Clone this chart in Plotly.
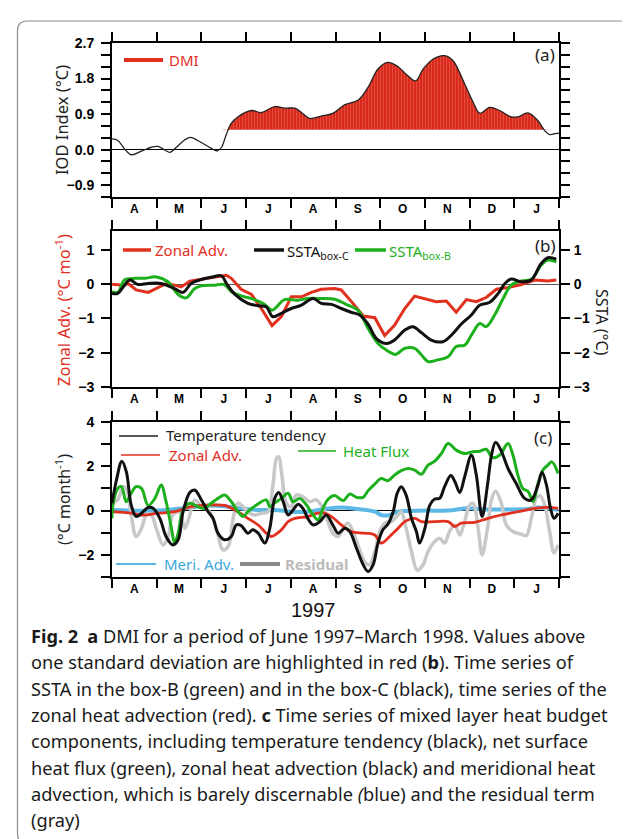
import numpy as np
import plotly.graph_objects as go

W, H = 630, 839


def px(x):
    return x / W


def py(y):
    return 1 - y / H


RED = '#e2301f'
GREEN = '#1db01d'
BLACK = '#111111'
BLUE = '#5cb8e4'
GRAY = '#c8c8c8'

# ---------------- data ----------------
month_labels = ['A', 'M', 'J', 'J', 'A', 'S', 'O', 'N', 'D', 'J']
month_edges = list(range(11))            # month boundaries (months since 1 Apr 1997)
month_centers = [m + 0.5 for m in range(10)]

# (a) DMI
dmi_t = [0, 0.13, 0.28, 0.43, 0.66, 0.88, 1.03, 1.18, 1.30, 1.44,
         1.63, 1.76, 1.92, 2.15, 2.36, 2.45, 2.56, 2.66, 2.82, 3.12,
         3.34, 3.64, 3.86, 4.09, 4.24, 4.42, 4.68, 4.94, 5.21, 5.50,
         5.73, 5.95, 6.17, 6.40, 6.58, 6.79, 6.96, 7.18, 7.44, 7.63,
         7.89, 8.08, 8.23, 8.45, 8.67, 8.93, 9.08, 9.31, 9.53, 9.68,
         9.79, 9.94, 10.0]
dmi_v = [0.27, 0.23, 0.02, -0.13, -0.04, 0.06, 0.08, -0.01, -0.07, 0.06,
         0.25, 0.31, 0.23, 0.08, -0.03, 0.06, 0.39, 0.65, 0.83, 0.99,
         0.94, 1.09, 1.05, 1.05, 0.94, 0.79, 0.85, 0.92, 1.14, 1.25,
         1.58, 2.04, 2.21, 2.10, 1.91, 1.74, 2.04, 2.29, 2.38, 2.25,
         1.66, 1.20, 0.92, 1.07, 0.99, 0.83, 0.83, 0.93, 0.73, 0.48,
         0.38, 0.41, 0.41]
dmi_std = 0.5

# (b) zonal advection and SSTA
zonal_b_t = [0, 0.13, 0.25, 0.36, 0.54, 0.81, 1.03, 1.22, 1.40, 1.55,
             1.74, 1.96, 2.22, 2.41, 2.56, 2.67, 2.89, 3.12, 3.34, 3.58,
             3.79, 4.01, 4.24, 4.46, 4.68, 4.98, 5.13, 5.39, 5.62, 5.88,
             6.10, 6.32, 6.55, 6.77, 7.00, 7.25, 7.48, 7.70, 7.93, 8.15,
             8.37, 8.60, 8.86, 9.16, 9.46, 9.75, 9.94]
zonal_b_v = [0.0, -0.01, -0.03, 0.02, -0.17, -0.24, -0.10, 0.02, -0.03, -0.08,
             0.09, 0.14, 0.20, 0.23, 0.26, 0.17, -0.15, -0.30, -0.71, -1.21,
             -0.95, -0.37, -0.37, -0.24, -0.15, -0.13, -0.17, -0.56, -0.93, -0.98,
             -1.50, -1.20, -0.71, -0.35, -0.42, -0.51, -0.49, -0.82, -0.45, -0.51,
             -0.39, -0.15, -0.10, -0.01, 0.12, 0.09, 0.12]

sstc_t = [0, 0.13, 0.25, 0.40, 0.58, 0.81, 1.10, 1.40, 1.59, 1.77,
          1.96, 2.22, 2.45, 2.56, 2.75, 3.04, 3.27, 3.45, 3.60, 3.79,
          4.01, 4.24, 4.50, 4.68, 4.91, 5.13, 5.35, 5.54, 5.73, 5.91,
          6.14, 6.32, 6.55, 6.73, 6.92, 7.14, 7.40, 7.59, 7.81, 8.04,
          8.23, 8.45, 8.64, 8.79, 8.93, 9.16, 9.38, 9.60, 9.75, 9.94]
sstc_v = [-0.27, -0.27, -0.08, 0.12, -0.01, 0.02, 0.02, -0.13, -0.24, 0.02,
          0.12, 0.20, 0.24, 0.02, -0.30, -0.56, -0.63, -0.66, -0.95, -0.85,
          -0.71, -0.61, -0.42, -0.56, -0.59, -0.71, -0.82, -0.90, -1.17, -1.58,
          -1.73, -1.63, -1.34, -1.24, -1.41, -1.63, -1.68, -1.49, -1.17, -0.90,
          -0.61, -0.53, -0.27, 0.02, 0.15, 0.07, 0.12, 0.60, 0.77, 0.73]

sstb_t = [0, 0.13, 0.28, 0.51, 0.73, 0.99, 1.25, 1.48, 1.66, 1.85,
          2.00, 2.30, 2.51, 2.67, 2.89, 3.19, 3.41, 3.58, 3.86, 4.16,
          4.38, 4.68, 4.98, 5.24, 5.50, 5.73, 5.95, 6.17, 6.34, 6.55,
          6.77, 6.96, 7.07, 7.29, 7.52, 7.70, 7.89, 8.04, 8.23, 8.37,
          8.56, 8.75, 8.93, 9.16, 9.38, 9.60, 9.75, 9.94]
sstb_v = [-0.22, -0.24, 0.12, 0.17, 0.17, 0.21, 0.07, -0.30, -0.40, -0.13,
          -0.05, -0.03, -0.01, -0.22, -0.34, -0.45, -0.59, -0.76, -0.45, -0.47,
          -0.42, -0.42, -0.44, -0.59, -0.76, -1.29, -1.73, -1.95, -2.05, -1.87,
          -1.87, -2.12, -2.26, -2.21, -2.12, -1.82, -1.78, -1.49, -1.15, -1.24,
          -0.90, -0.42, -0.03, 0.09, 0.14, 0.55, 0.70, 0.65]

# (c) heat budget terms
tend_t = [0, 0.10, 0.22, 0.32, 0.43, 0.54, 0.66, 0.81, 0.92, 1.07,
          1.21, 1.36, 1.48, 1.59, 1.74, 1.85, 2.00, 2.15, 2.26, 2.37,
          2.52, 2.67, 2.78, 2.89, 3.04, 3.15, 3.27, 3.42, 3.53, 3.64,
          3.73, 3.83, 3.94, 4.05, 4.16, 4.27, 4.38, 4.50, 4.65, 4.79,
          4.94, 5.06, 5.21, 5.32, 5.47, 5.62, 5.73, 5.84, 5.95, 6.06,
          6.17, 6.29, 6.38, 6.47, 6.58, 6.70, 6.81, 6.88, 7.00, 7.11,
          7.22, 7.33, 7.44, 7.58, 7.67, 7.78, 7.89, 8.04, 8.15, 8.28,
          8.40, 8.49, 8.58, 8.70, 8.86, 9.04, 9.23, 9.38, 9.53, 9.62,
          9.72, 9.81, 9.89, 9.98]
tend_v = [0.33, 1.38, 2.23, 1.76, 0.25, -0.27, -0.12, 0.14, 0.10, -0.35,
          -1.17, -1.55, -1.32, -0.05, 0.82, 0.93, 0.48, -0.05, -0.35, -1.02,
          -1.32, -1.17, -0.65, -0.68, -1.02, -0.87, -1.02, -1.47, -0.80, 0.55,
          0.82, 0.40, -0.20, 0.03, 0.28, 0.10, -0.35, -0.65, -0.50, -0.20,
          -0.65, -1.02, -0.80, -0.95, -1.70, -2.45, -2.75, -2.45, -1.47, -0.87,
          -0.62, -0.05, 0.78, 1.08, 0.70, -0.35, -0.95, -1.47, -0.80, 0.25,
          0.52, 0.55, 1.08, 1.58, 1.31, 0.82, 1.53, 2.50, 1.60, -0.27,
          1.15, 2.50, 3.08, 2.73, 1.90, 1.23, 0.55, 0.48, 1.15, 1.73,
          1.15, 0.10, -0.35, -0.12]

flux_t = [0, 0.02, 0.13, 0.21, 0.32, 0.43, 0.54, 0.66, 0.81, 0.96,
          1.10, 1.21, 1.33, 1.40, 1.48, 1.59, 1.74, 1.92, 2.07, 2.22,
          2.37, 2.52, 2.67, 2.82, 2.93, 3.04, 3.23, 3.45, 3.53, 3.64,
          3.79, 3.94, 4.05, 4.20, 4.35, 4.50, 4.61, 4.72, 4.83, 4.98,
          5.17, 5.32, 5.47, 5.62, 5.73, 5.88, 6.02, 6.17, 6.32, 6.47,
          6.62, 6.77, 6.92, 7.07, 7.22, 7.37, 7.52, 7.70, 7.89, 8.08,
          8.23, 8.37, 8.52, 8.67, 8.86, 8.97, 9.08, 9.19, 9.31, 9.42,
          9.53, 9.64, 9.75, 9.84, 9.98]
flux_v = [-0.35, 0.25, 1.0, 1.08, 0.4, 0.78, 1.08, 1.0, 0.23, 0.55,
          1.15, 0.4, -0.8, -1.47, -1.02, 0.03, 0.33, 0.18, 0.1, 0.33,
          0.55, 0.7, 0.4, -0.05, -0.27, -0.05, 0.25, 0.48, 0.18, 0.35,
          0.55, 0.78, 0.4, 0.55, 0.25, -0.2, -0.42, 0.1, 0.5, 0.68,
          0.45, 0.75, 0.6, 0.6, 0.9, 1.2, 1.45, 1.35, 1.6, 1.8,
          1.9, 1.83, 1.64, 2.05, 2.23, 2.58, 3.03, 2.73, 2.58, 2.66,
          2.68, 2.77, 2.39, 2.5, 3.03, 2.5, 1.6, 1.0, 0.86, 0.4,
          1.23, 1.83, 2.05, 2.2, 1.68]

zonal_c_t = [0, 0.43, 0.66, 1.03, 1.40, 1.77, 2.15, 2.52, 2.82, 3.04,
             3.27, 3.45, 3.56, 3.79, 3.94, 4.09, 4.38, 4.61, 4.76, 4.91,
             5.13, 5.35, 5.65, 5.88, 6.02, 6.21, 6.40, 6.55, 6.77, 6.92,
             7.22, 7.52, 7.67, 7.81, 8.11, 8.41, 8.71, 9.08, 9.46, 9.75,
             9.98]
zonal_c_v = [-0.05, -0.12, -0.2, -0.12, -0.05, 0.18, 0.25, 0.23, -0.05, -0.35,
             -0.65, -1.02, -1.17, -0.87, -0.5, -0.35, -0.27, -0.12, -0.12, -0.27,
             -0.65, -0.95, -1.02, -1.1, -1.47, -1.17, -0.8, -0.5, -0.35, -0.5,
             -0.5, -0.5, -0.72, -0.57, -0.53, -0.35, -0.2, -0.05, 0.1, 0.14,
             0.1]

meri_t = [0, 1.03, 1.77, 2.15, 2.52, 2.89, 3.27, 3.64, 4.01, 4.38,
          4.76, 5.13, 5.50, 5.88, 6.02, 6.17, 6.40, 6.62, 7.07, 7.52,
          7.96, 8.41, 8.86, 9.31, 9.53, 9.98]
meri_v = [0.03, 0.0, 0.14, 0.23, 0.2, 0.09, 0.03, 0.03, -0.05, -0.05,
          0.07, 0.14, 0.07, -0.05, -0.2, -0.22, -0.05, -0.02, 0.0, 0.0,
          0.1, 0.05, 0.05, 0.07, 0.14, 0.03]

resid_t = [0, 0.06, 0.13, 0.25, 0.32, 0.43, 0.54, 0.66, 0.77, 0.88,
           0.99, 1.14, 1.25, 1.36, 1.51, 1.63, 1.74, 1.85, 2.00, 2.15,
           2.26, 2.37, 2.48, 2.60, 2.71, 2.82, 2.97, 3.08, 3.19, 3.34,
           3.49, 3.60, 3.68, 3.73, 3.80, 3.90, 4.01, 4.12, 4.27, 4.42,
           4.57, 4.72, 4.83, 4.94, 5.06, 5.17, 5.28, 5.39, 5.50, 5.65,
           5.76, 5.88, 5.99, 6.10, 6.25, 6.40, 6.47, 6.58, 6.70, 6.83,
           6.96, 7.07, 7.22, 7.33, 7.44, 7.55, 7.67, 7.78, 7.89, 8.00,
           8.08, 8.19, 8.28, 8.40, 8.49, 8.58, 8.70, 8.82, 8.97, 9.16,
           9.27, 9.38, 9.49, 9.57, 9.68, 9.79, 9.89, 9.98]
resid_v = [0.18, 0.4, 0.48, 1.08, 1.0, -0.2, -1.17, -0.8, -0.2, -0.2,
           -0.8, -1.55, -1.25, -0.2, -0.05, -0.8, -0.2, 0.48, 0.18, 0.03,
           -0.35, -1.1, -1.77, -1.62, -0.35, 0.33, 0.1, -0.12, -0.2, -0.12,
           -0.05, 1.15, 2.36, 2.43, 1.6, 0.33, 0.18, 0.7, 0.63, 0.4,
           0.48, 0.1, -0.5, -1.02, -1.17, -0.8, -0.57, -0.95, -1.55, -2.3,
           -2.45, -1.85, -0.95, -0.57, -0.5, -0.2, -0.05, -0.8, -1.85, -2.7,
           -2.45, -1.85, -1.4, -1.25, -1.47, -0.95, -0.65, -1.1, -0.5, 0.25,
           0.33, -0.8, -2.0, -0.8, 0.48, 0.88, 0.4, -0.65, -0.95, -1.07,
           -1.13, -0.35, 0.55, 0.68, 0.25, -0.95, -1.92, -1.55]

caption_lines = [
    '<b>Fig. 2</b>\u2002<b>a</b> DMI for a period of June 1997\u2013March 1998. Values above',
    'one standard deviation are highlighted in red (<b>b</b>). Time series of',
    'SSTA in the box-B (green) and in the box-C (black), time series of the',
    'zonal heat advection (red). <b>c</b> Time series of mixed layer heat budget',
    'components, including temperature tendency (black), net surface',
    'heat flux (green), zonal heat advection (black) and meridional heat',
    'advection, which is barely discernable <i>(</i>blue) and the residual term',
    '(gray)',
]

# ---------------- figure ----------------
fig = go.Figure()

# panel a: highlighted area above one standard deviation
dmi_fill = np.maximum(np.array(dmi_v), dmi_std)
fig.add_trace(go.Scatter(x=dmi_t, y=[dmi_std] * len(dmi_t), mode='lines',
                         line=dict(width=0), xaxis='x', yaxis='y', hoverinfo='skip'))
fig.add_trace(go.Scatter(x=dmi_t, y=dmi_fill, mode='lines',
                         line=dict(width=0, shape='spline'), fill='tonexty',
                         fillcolor='#d9291c',
                         fillpattern=dict(shape='|', bgcolor='#d9291c', fgcolor='#f07868',
                                          size=3, solidity=0.3),
                         xaxis='x', yaxis='y', hoverinfo='skip'))
fig.add_trace(go.Scatter(x=dmi_t, y=dmi_v, mode='lines',
                         line=dict(color='#222222', width=1.3, shape='spline'),
                         xaxis='x', yaxis='y'))

# panel b
fig.add_trace(go.Scatter(x=zonal_b_t, y=zonal_b_v, mode='lines',
                         line=dict(color=RED, width=3), xaxis='x2', yaxis='y2'))
fig.add_trace(go.Scatter(x=sstb_t, y=sstb_v, mode='lines',
                         line=dict(color=GREEN, width=3, shape='spline'), xaxis='x2', yaxis='y4'))
fig.add_trace(go.Scatter(x=sstc_t, y=sstc_v, mode='lines',
                         line=dict(color=BLACK, width=3, shape='spline'), xaxis='x2', yaxis='y4'))

# panel c
fig.add_trace(go.Scatter(x=meri_t, y=meri_v, mode='lines',
                         line=dict(color=BLUE, width=4, shape='spline'), xaxis='x3', yaxis='y3'))
fig.add_trace(go.Scatter(x=resid_t, y=resid_v, mode='lines',
                         line=dict(color=GRAY, width=3.5, shape='spline'), xaxis='x3', yaxis='y3'))
fig.add_trace(go.Scatter(x=zonal_c_t, y=zonal_c_v, mode='lines',
                         line=dict(color=RED, width=2.8, shape='spline'), xaxis='x3', yaxis='y3'))
fig.add_trace(go.Scatter(x=flux_t, y=flux_v, mode='lines',
                         line=dict(color=GREEN, width=3, shape='spline'), xaxis='x3', yaxis='y3'))
fig.add_trace(go.Scatter(x=tend_t, y=tend_v, mode='lines',
                         line=dict(color=BLACK, width=3, shape='spline'), xaxis='x3', yaxis='y3'))

TICKFONT = dict(family='Liberation Sans', size=14, color='black', weight='bold')
MONTHFONT = dict(family='Liberation Sans', size=12, color='black', weight='bold')


def xaxis_cfg(anchor):
    return dict(domain=[px(104), px(551)], anchor=anchor, range=[0, 10],
                showline=True, linecolor='black', linewidth=2, mirror='ticks',
                tickmode='array', tickvals=month_centers, ticktext=month_labels,
                ticks='outside', ticklen=1, tickwidth=1, tickcolor='rgba(0,0,0,0)',
                ticklabelstandoff=-1,
                minor=dict(tickmode='array', tickvals=month_edges, ticks='outside',
                           ticklen=9, tickwidth=2, tickcolor='black', showgrid=False),
                tickfont=MONTHFONT, showgrid=False, zeroline=False, fixedrange=True,
                automargin=False)


def yaxis_cfg(top, bottom, anchor, rng, tv, tt, minor_tv, zcol='black'):
    d = dict(domain=[py(bottom), py(top)], anchor=anchor, range=rng,
             showline=True, linecolor='black', linewidth=2, mirror='ticks',
             tickmode='array', tickvals=tv, ticktext=tt,
             ticks='outside', ticklen=9, tickwidth=2, tickcolor='black',
             tickfont=TICKFONT, ticklabelstandoff=4,
             showgrid=False, zeroline=True, zerolinecolor=zcol, zerolinewidth=1,
             fixedrange=True, automargin=False)
    if minor_tv:
        d['minor'] = dict(tickmode='array', tickvals=minor_tv, ticks='outside',
                          ticklen=9, tickwidth=2, tickcolor='black', showgrid=False)
    return d


fig.update_layout(
    width=W, height=H, margin=dict(l=0, r=0, t=0, b=0),
    paper_bgcolor='white', plot_bgcolor='rgba(0,0,0,0)', showlegend=False,
    xaxis=xaxis_cfg('y'),
    yaxis=yaxis_cfg(35, 189, 'x', [-1.2, 2.7],
                    [-0.9, 0, 0.9, 1.8, 2.7], ['\u22120.9', '0.0', '0.9', '1.8', '2.7'],
                    [-1.2, -0.6, -0.3, 0.3, 0.6, 1.2, 1.5, 2.1, 2.4]),
    xaxis2=xaxis_cfg('y2'),
    yaxis2=yaxis_cfg(223, 379, 'x2', [-3, 1.55],
                     [-3, -2, -1, 0, 1], ['\u22123', '\u22122', '\u22121', '0', '1'], None,
                     zcol='#555555'),
    yaxis4=dict(overlaying='y2', side='right', anchor='x2', range=[-3, 1.55],
                showline=False, tickmode='array', tickvals=[-3, -2, -1, 0, 1],
                ticktext=['\u22123', '\u22122', '\u22121', '0', '1'],
                ticks='outside', ticklen=9, tickwidth=2, tickcolor='black',
                tickfont=TICKFONT, ticklabelstandoff=2, showgrid=False, zeroline=False,
                fixedrange=True, automargin=False),
    xaxis3=xaxis_cfg('y3'),
    yaxis3=yaxis_cfg(414, 569, 'x3', [-3, 4],
                     [-2, 0, 2, 4], ['\u22122', '0', '2', '4'], [-3, -1, 1, 3]),
)

ann = []
shapes = []
TXT = 'Noto Sans'


def label(x, y, text, color='#222222', size=15, anchor='left', angle=0, family=TXT):
    ann.append(dict(x=px(x), y=py(y), xref='paper', yref='paper', text=text,
                    showarrow=False, xanchor=anchor, yanchor='middle', textangle=angle,
                    font=dict(family=family, size=size, color=color)))


def legline(x0, x1, y, color, width):
    shapes.append(dict(type='line', xref='paper', yref='paper', x0=px(x0), x1=px(x1),
                       y0=py(y), y1=py(y), line=dict(color=color, width=width)))


# axis titles
label(53, 112, 'IOD Index (\u00b0C)', size=16.5, anchor='center', angle=-90)
label(55, 302, 'Zonal Adv. (\u00b0C mo<sup>-1</sup>)', color=RED, size=16.5, anchor='center', angle=-90)
label(594, 314, 'SSTA (\u00b0C)', size=16, anchor='center', angle=90)
label(55, 492, '(\u00b0C month<sup>-1</sup>)', size=16, anchor='center', angle=-90)
label(305, 602, '1997', size=20, anchor='center', family='Liberation Sans', color='#111111')

# panel tags
label(537, 47, '(a)', size=17, anchor='center')
label(537, 237, '(b)', size=17, anchor='center')
label(535, 429, '(c)', size=17, anchor='center')

# legends
legline(116, 155, 52, RED, 4)
label(159, 52, 'DMI', color=RED)
legline(115, 143, 242, RED, 3.5)
label(145, 242, 'Zonal Adv.', color=RED)
legline(246, 276, 242, BLACK, 3.5)
label(277, 244, 'SSTA<sub>box-C</sub>', color=BLACK)
legline(347, 378, 242, GREEN, 3.5)
label(379, 244, 'SSTA<sub>box-B</sub>', color=GREEN)

legline(111, 150, 428, '#222222', 1.5)
label(156, 427, 'Temperature tendency', color='#222222')
legline(113, 152, 447, RED, 1.5)
label(159, 447, 'Zonal Adv.', color=RED)
legline(290, 328, 443, GREEN, 1.5)
label(333, 443, 'Heat Flux', color=GREEN)
legline(108, 148, 556, BLUE, 2)
label(154, 556, 'Meri. Adv.', color='#3aa8dc')
legline(232, 272, 556, '#888888', 4)
label(275, 556, '<b>Residual</b>', color='#bbbbbb')

# caption
for i, line in enumerate(caption_lines):
    label(21, 628 + 26.3 * i, line, size=18.2, color='#1a1a1a')

# rounded frame around the figure
L, R, T, B, r = 9.5, 628.5, 13, 836, 10
path = (f'M {px(L + r)},{py(T)} L {px(R - r)},{py(T)} Q {px(R)},{py(T)} {px(R)},{py(T + r)} '
        f'L {px(R)},{py(B - r)} Q {px(R)},{py(B)} {px(R - r)},{py(B)} '
        f'L {px(L + r)},{py(B)} Q {px(L)},{py(B)} {px(L)},{py(B - r)} '
        f'L {px(L)},{py(T + r)} Q {px(L)},{py(T)} {px(L + r)},{py(T)} Z')
shapes.append(dict(type='path', xref='paper', yref='paper', path=path,
                   line=dict(color='#8a8a8a', width=1.2), layer='below'))

fig.update_layout(annotations=ann, shapes=shapes)
fig.write_html('out.html')
